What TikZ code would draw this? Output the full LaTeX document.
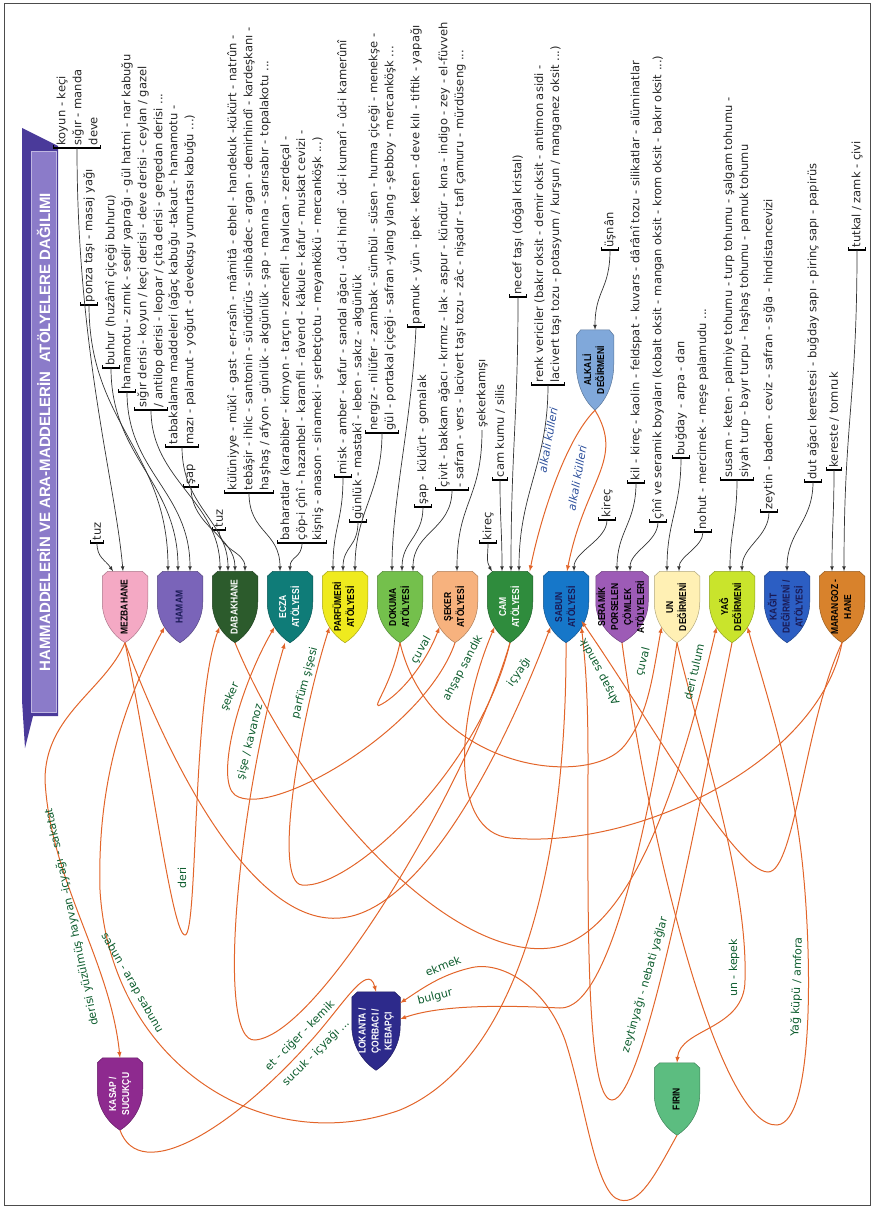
\documentclass[tikz,border=0pt]{standalone}
\usepackage{fontspec}
\setmainfont{DejaVu Sans}
\newfontfamily\darfont[FakeStretch=0.85]{Liberation Sans}
\newfontfamily\baslikfont{Liberation Sans}
\usepackage{graphicx}
\usetikzlibrary{calc}

\definecolor{turuncu}{HTML}{E2652A}
\definecolor{yaziyesil}{HTML}{0B5B2C}
\definecolor{alkalimavi}{HTML}{2B4E9B}
\definecolor{bantkoyu}{HTML}{4A3A9A}
\definecolor{bantacik}{HTML}{8B7BC9}
\definecolor{pembe}{HTML}{F4A9C4}
\definecolor{hamammor}{HTML}{7A64B9}
\definecolor{dabak}{HTML}{2C5B2C}
\definecolor{ecza}{HTML}{0F7C78}
\definecolor{sari}{HTML}{EFEA1E}
\definecolor{dokuma}{HTML}{74C04C}
\definecolor{seftali}{HTML}{F7B27E}
\definecolor{camyesil}{HTML}{2F8C3D}
\definecolor{sabunmavi}{HTML}{1677C9}
\definecolor{seramikmor}{HTML}{9D5BB6}
\definecolor{krem}{HTML}{FFF0B4}
\definecolor{limon}{HTML}{C9E42C}
\definecolor{kagitmavi}{HTML}{2C5EC3}
\definecolor{marangoz}{HTML}{D8822C}
\definecolor{alkali}{HTML}{80A8DA}
\definecolor{kasap}{HTML}{8E2A8F}
\definecolor{lokanta}{HTML}{2D2A8B}
\definecolor{firin}{HTML}{5CBD80}
\definecolor{lacivert}{HTML}{1A1A55}

% kalkan biçimli atölye düğümü
\makeatletter
\def\kalkannokta#1#2{%
  \southwest\pgf@xa=\pgf@x\pgf@ya=\pgf@y%
  \northeast\pgf@xb=\pgf@x\pgf@yb=\pgf@y%
  \advance\pgf@xb by-\pgf@xa%
  \advance\pgf@yb by-\pgf@ya%
  \pgf@x=#1\pgf@xb\advance\pgf@x by\pgf@xa%
  \pgf@y=#2\pgf@yb\advance\pgf@y by\pgf@ya}
\pgfdeclareshape{kalkan}{%
  \inheritsavedanchors[from=rectangle]%
  \inheritanchorborder[from=rectangle]%
  \inheritanchor[from=rectangle]{center}%
  \inheritanchor[from=rectangle]{north}%
  \inheritanchor[from=rectangle]{south}%
  \inheritanchor[from=rectangle]{east}%
  \inheritanchor[from=rectangle]{west}%
  \inheritanchor[from=rectangle]{north east}%
  \inheritanchor[from=rectangle]{north west}%
  \anchor{lower east}{\kalkannokta{.84}{.22}}%
  \anchor{lower west}{\kalkannokta{.16}{.22}}%
  \backgroundpath{%
    \pgfpathmoveto{\kalkannokta{0}{.57}}%
    \pgfpathlineto{\kalkannokta{0}{.93}}%
    \pgfpathlineto{\kalkannokta{.12}{1}}%
    \pgfpathlineto{\kalkannokta{.88}{1}}%
    \pgfpathlineto{\kalkannokta{1}{.93}}%
    \pgfpathlineto{\kalkannokta{1}{.57}}%
    \pgfpathcurveto{\kalkannokta{1}{.3}}{\kalkannokta{.75}{.1}}{\kalkannokta{.5}{0}}%
    \pgfpathcurveto{\kalkannokta{.25}{.1}}{\kalkannokta{0}{.3}}{\kalkannokta{0}{.57}}%
    \pgfpathclose}%
}
\makeatother

\newcommand{\dik}[1]{\rotatebox{90}{\begin{tabular}{@{}c@{}}#1\end{tabular}}}

\tikzset{
  atolye/.style={shape=kalkan, fill=#1, draw=#1!70!black, line width=0.5pt,
    minimum width=45pt, minimum height=71pt, inner sep=0pt,
    font=\darfont\bfseries\fontsize{10}{13}\selectfont},
  madde/.style={rotate=90, anchor=west, align=left, inner sep=2.5pt,
    text=black!85, font=\fontsize{11.5}{16}\selectfont},
  kose/.style={line width=1.1pt},
  bag/.style={-latex, draw=black!80, line width=0.7pt},
  akis/.style={-latex, draw=turuncu, line width=1pt},
  etiket/.style={text=yaziyesil, inner sep=1pt, font=\fontsize{11}{14}\selectfont},
  alkaliyazi/.style={etiket, text=alkalimavi, font=\fontsize{11}{14}\selectfont\itshape}
}

\begin{document}
\begin{tikzpicture}[x=1pt,y=-1pt]
\useasboundingbox (0,0) rectangle (875,1209);
\draw[black!70, line width=0.8pt] (4,3) rectangle (870,1205);

% başlık bandı
\fill[bantkoyu] (22,128) -- (58,146) -- (58,716) -- (33,716) -- (25,748) -- (22,700) -- cycle;
\filldraw[fill=bantacik, draw=bantacik!55!white, line width=1pt] (31,152) rectangle (56,712);
\node[rotate=90, text=white, font=\baslikfont\bfseries\fontsize{15}{18}\selectfont] (baslik) at (43.5,432)
  {HAMMADDELERİN VE ARA-MADDELERİN\ \ ATÖLYELERE DAĞILIMI};

% atölyeler
\node[atolye=pembe, text=black] (mezbahane) at (125,607) {\dik{MEZBAHANE}};
\node[atolye=hamammor, text=lacivert] (hamam) at (180,607) {\dik{HAMAM}};
\node[atolye=dabak, text=white] (dabakhane) at (235,607) {\dik{DABAKHANE}};
\node[atolye=ecza, text=white] (ecza) at (290,607) {\dik{ECZA\\ATÖLYESİ}};
\node[atolye=sari, text=black] (parfumeri) at (345,607) {\dik{PARFÜMERİ\\ATÖLYESİ}};
\node[atolye=dokuma, text=black] (dokuma) at (400,607) {\dik{DOKUMA\\ATÖLYESİ}};
\node[atolye=seftali, text=black] (seker) at (455,607) {\dik{ŞEKER\\ATÖLYESİ}};
\node[atolye=camyesil, text=white] (cam) at (510,607) {\dik{CAM\\ATÖLYESİ}};
\node[atolye=sabunmavi, text=lacivert] (sabun) at (566,607) {\dik{SABUN\\ATÖLYESİ}};
\node[atolye=seramikmor, text=black] (seramik) at (622,607) {\dik{SERAMİK\\PORSELEN\\ÇÖMLEK\\ATÖLYELERİ}};
\node[atolye=krem, text=black] (un) at (677,607) {\dik{UN\\DEĞİRMENİ}};
\node[atolye=limon, text=black] (yag) at (732,607) {\dik{YAĞ\\DEĞİRMENİ}};
\node[atolye=kagitmavi, text=lacivert] (kagit) at (787,607) {\dik{KAĞIT\\DEĞİRMENİ /\\ATÖLYESİ}};
\node[atolye=marangoz, text=black] (marangoz) at (842,607) {\dik{MARANGOZ -\\HANE}};
\node[atolye=alkali, text=black, minimum width=37pt, minimum height=80pt] (alkali) at (595,370) {\dik{ALKALİ\\DEĞİRMENİ}};
\node[atolye=kasap, text=white, minimum height=72pt] (kasap) at (120,1094) {\dik{KASAP /\\SUCUKÇU}};
\node[atolye=lokanta, text=white, minimum width=48pt, minimum height=78pt] (lokanta) at (376,1031) {\dik{LOKANTA /\\ÇORBACI /\\KEBAPÇI}};
\node[atolye=firin, text=black, minimum height=72pt] (firin) at (677,1099) {\dik{FIRIN}};

% hammaddeler
\node[madde] (koyun) at (77,148) {koyun - keçi\\sığır - manda\\deve};
\node[madde] (tuza) at (97,543) {tuz};
\node[madde] (ponza) at (89,305) {ponza taşı - masaj yağı};
\node[madde] (buhur) at (111,368) {buhur (huzâmî çiçeği buhuru)};
\node[madde] (hamamotu) at (127,392) {hamamotu - zırnık - sedir yaprağı - gül hatmi - nar kabuğu};
\node[madde] (deriler) at (151,410) {sığır derisi - koyun / keçi derisi - deve derisi - ceylan / gazel\\/ antilop derisi - leopar / çita derisi - gergedan derisi ...};
\node[madde] (tabak) at (182,447) {tabakalama maddeleri (ağaç kabuğu -takaut - hamamotu -\\mazı - palamut - yoğurt - devekuşu yumurtası kabuğu ...)};
\node[madde] (sapa) at (191,487) {şap};
\node[madde] (tuzb) at (219,530) {tuz};
\node[madde] (ilac) at (249,493) {külüniyye - mükî - gast - er-rasîn - mâmitâ - ebhel - handekuk -kükürt - natrûn -\\tebâşir - ihlic - santonin - sündürüs - sinbâdec - argan - demirhindî - kardeşkanı -\\haşhaş / afyon - günlük - akgünlük - şap - manna - sarısabır - topalakotu ...};
\node[madde] (baharat) at (302,543) {baharatlar (karabiber - kimyon - tarçın - zencefil - havlıcan - zerdeçal -\\çöp-i çînî - hazanbel - karanfil - râvend - kâkule - kafur - muskat cevizi -\\kişniş - anason - sinameki - şerbetçiotu - meyankökü - mercanköşk ...)};
\node[madde] (misk) at (343,477) {misk - amber - kafur - sandal ağacı - ûd-i hindî - ûd-i kumarî - ûd-i kamerûnî};
\node[madde] (gunluk) at (358,522) {günlük - mastakî - leben - sakız - akgünlük};
\node[madde] (cicek) at (382,433) {nergiz - nilüfer - zambak - sümbül - süsen - hurma çiçeği - menekşe -\\gül - portakal çiçeği - safran -ylang ylang - şebboy - mercanköşk ...};
\node[madde] (lif) at (416,327) {pamuk - yün - ipek - keten - deve kılı - tiftik - yapağı};
\node[madde] (sapb) at (423,507) {şap - kükürt - gomalak};
\node[madde] (boya) at (452,490) {çivit - bakkam ağacı - kırmız - lak - aspur - kündür - kına - indigo - zey - el-füvveh\\- safran - vers - lacivert taşı tozu - zâc - nişadır - tafl çamuru - mürdüseng ...};
\node[madde] (kamis) at (482,430) {şekerkamışı};
\node[madde] (kireca) at (488,543) {kireç};
\node[madde] (kum) at (500,480) {cam kumu / silis};
\node[madde] (necef) at (518,297) {necef taşı (doğal kristal)};
\node[madde] (renk) at (548,385) {renk vericiler (bakır oksit - demir oksit - antimon asidi -\\lacivert taşı tozu - potasyum / kurşun / manganez oksit ...)};
\node[madde] (usnan) at (610,250) {üşnân};
\node[madde] (kirecb) at (607,520) {kireç};
\node[madde] (kil) at (636,483) {kil - kireç - kaolin - feldspat - kuvars - dârânî tozu - silikatlar - alüminatlar};
\node[madde] (cini) at (658,522) {çînî ve seramik boyaları (kobalt oksit - mangan oksit - krom oksit - bakır oksit ...)};
\node[madde] (tahil) at (681,458) {buğday - arpa - darı};
\node[madde] (baklagil) at (703,532) {nohut - mercimek - meşe palamudu ...};
\node[madde] (tohum) at (737,480) {susam - keten - palmiye tohumu - turp tohumu - şalgam tohumu -\\siyah turp - bayır turpu - haşhaş tohumu - pamuk tohumu};
\node[madde] (zeytin) at (769,512) {zeytin - badem - ceviz - safran - sığla - hindistancevizi};
\node[madde] (dut) at (813,482) {dut ağacı kerestesi - buğday sapı - pirinç sapı - papirüs};
\node[madde] (kereste) at (834,470) {kereste / tomruk};
\node[madde] (tutkal) at (857,250) {tutkal / zamk - çivi};

\foreach \m in {koyun,tuza,ponza,buhur,hamamotu,deriler,tabak,sapa,tuzb,ilac,baharat,misk,gunluk,cicek,lif,sapb,boya,kireca,kum,necef,renk,usnan,kirecb,kil,cini,tahil,baklagil,tohum,zeytin,dut,kereste,tutkal}
  \draw[kose] ([yshift=3pt]\m.north west) -- (\m.north west) -- (\m.south west) -- ([yshift=3pt]\m.south west);

% hammadde -> atölye
\draw[bag] (koyun.west) .. controls (77,350) and (115,480) .. ([xshift=-2pt]mezbahane.north);
\draw[bag] (tuza.west) .. controls +(0,15) and +(-8,-12) .. ([xshift=-12pt]mezbahane.north);
\draw[bag] (ponza.west) .. controls +(0,120) and +(0,-120) .. ([xshift=-12pt]hamam.north);
\draw[bag] (buhur.west) .. controls +(0,90) and +(0,-90) .. ([xshift=-2pt]hamam.north);
\draw[bag] (hamamotu.west) .. controls +(0,80) and +(0,-80) .. ([xshift=10pt]hamam.north);
\draw[bag] (deriler.west) .. controls +(0,70) and +(0,-70) .. ([xshift=-15pt]dabakhane.north);
\draw[bag] (tabak.west) .. controls +(0,60) and +(0,-50) .. ([xshift=-7pt]dabakhane.north);
\draw[bag] (sapa.west) .. controls +(0,40) and +(0,-35) .. (dabakhane.north);
\draw[bag] (tuzb.west) .. controls +(0,20) and +(0,-20) .. ([xshift=10pt]dabakhane.north);
\draw[bag] (ilac.west) .. controls +(0,40) and +(0,-40) .. ([xshift=-10pt]ecza.north);
\draw[bag] (baharat.west) .. controls +(0,15) and +(0,-15) .. (ecza.north);
\draw[bag] (misk.west) .. controls +(0,45) and +(0,-45) .. ([xshift=-12pt]parfumeri.north);
\draw[bag] (gunluk.west) .. controls +(0,25) and +(0,-25) .. ([xshift=-2pt]parfumeri.north);
\draw[bag] (cicek.west) .. controls +(0,60) and +(0,-60) .. ([xshift=10pt]parfumeri.north);
\draw[bag] (lif.west) .. controls (412,420) and (392,500) .. ([xshift=-8pt]dokuma.north);
\draw[bag] (sapb.west) .. controls +(0,30) and +(0,-30) .. ([xshift=2pt]dokuma.north);
\draw[bag] (boya.west) .. controls +(0,40) and +(0,-40) .. ([xshift=13pt]dokuma.north);
\draw[bag] (kamis.west) .. controls +(0,70) and +(0,-70) .. ([xshift=2pt]seker.north);
\draw[bag] (kireca.west) .. controls +(0,12) and +(-6,-10) .. ([xshift=-18pt]cam.north);
\draw[bag] (kum.west) .. controls +(0,40) and +(0,-40) .. ([xshift=-8pt]cam.north);
\draw[bag] (necef.west) .. controls +(0,120) and +(0,-120) .. ([xshift=1pt]cam.north);
\draw[bag] (renk.west) .. controls +(0,80) and +(0,-80) .. ([xshift=9pt]cam.north);
\draw[bag] (usnan.west) .. controls +(0,40) and +(0,-40) .. (alkali.north);
\draw[bag] (kirecb.west) .. controls +(0,20) and +(0,-20) .. ([xshift=8pt]sabun.north);
\draw[bag] (kil.west) .. controls +(0,40) and +(0,-40) .. ([xshift=-5pt]seramik.north);
\draw[bag] (cini.west) .. controls +(0,20) and +(0,-20) .. ([xshift=8pt]seramik.north);
\draw[bag] (tahil.west) .. controls +(0,50) and +(0,-50) .. ([xshift=-10pt]un.north);
\draw[bag] (baklagil.west) .. controls +(0,15) and +(0,-15) .. ([xshift=2pt]un.north);
\draw[bag] (tohum.west) .. controls +(0,40) and +(0,-40) .. ([xshift=-2pt]yag.north);
\draw[bag] (zeytin.west) .. controls +(0,25) and +(0,-25) .. ([xshift=10pt]yag.north);
\draw[bag] (dut.west) .. controls +(0,40) and +(0,-40) .. (kagit.north);
\draw[bag] (kereste.west) .. controls +(0,45) and +(0,-45) .. ([xshift=-10pt]marangoz.north);
\draw[bag] (tutkal.west) .. controls +(0,150) and +(0,-150) .. ([xshift=2pt]marangoz.north);

% ara-maddeler
\draw[akis] (mezbahane.south) .. controls (105,690) and (45,715) .. (45,780) .. controls (50,880) and (110,960) .. (kasap.north);
\draw[akis] (mezbahane.south) .. controls (150,760) and (172,935) .. (185,935) .. controls (198,935) and (192,700) .. (dabakhane.lower west);
\draw[akis] (mezbahane.south) .. controls (180,790) and (260,925) .. (340,918) .. controls (420,912) and (500,760) .. (sabun.lower west);
\draw[akis] (sabun.south) .. controls (567,860) and (520,1060) .. (400,1110) .. controls (260,1160) and (110,1060) .. (100,890) .. controls (97,780) and (125,700) .. (hamam.lower west);
\draw[akis] (kasap.south) .. controls (140,1185) and (230,1130) .. (307,1045) .. controls (340,1010) and (368,960) .. (lokanta.north);
\draw[akis] (firin.south) .. controls (655,1175) and (640,1205) .. (620,1200) .. controls (595,1195) and (585,1100) .. (565,1040) .. controls (545,985) and (500,960) .. (470,968) .. controls (440,975) and (420,990) .. ([yshift=28pt]lokanta.east);
\draw[akis] (un.south) .. controls (650,820) and (610,1010) .. (560,1008) .. controls (500,1005) and (440,1005) .. ([yshift=12pt]lokanta.east);
\draw[akis] (un.south) .. controls (700,740) and (748,880) .. (745,980) .. controls (745,1030) and (680,1028) .. (firin.north);
\draw[akis] (yag.south) .. controls (700,800) and (645,1100) .. (612,1100) .. controls (585,1100) and (588,900) .. (588,760) .. controls (588,690) and (585,660) .. (sabun.lower east);
\draw[akis] (seramik.south) .. controls (650,850) and (720,1128) .. (777,1125) .. controls (815,1122) and (812,950) .. (802,860) .. controls (792,770) and (765,690) .. (yag.lower east);
\draw[akis] (dabakhane.south) .. controls (300,800) and (450,960) .. (550,948) .. controls (640,937) and (690,740) .. (yag.lower west);
\draw[akis] (dokuma.south) .. controls (390,690) and (368,712) .. (382,704) .. controls (400,694) and (425,665) .. (seker.lower west);
\draw[akis] (dokuma.south) .. controls (430,770) and (590,790) .. (625,745) .. controls (648,715) and (652,680) .. (un.lower west);
\draw[akis] (marangoz.south) .. controls (820,760) and (640,850) .. (510,838) .. controls (450,832) and (455,720) .. (cam.lower west);
\draw[akis] (marangoz.south) .. controls (805,720) and (795,872) .. (768,872) .. controls (735,872) and (650,720) .. ([yshift=6pt]sabun.lower east);
\draw[akis] (seker.south) .. controls (425,730) and (270,820) .. (235,795) .. controls (215,780) and (238,690) .. (ecza.lower west);
\draw[akis] (cam.south) .. controls (470,780) and (320,1035) .. (255,1040) .. controls (215,1043) and (238,800) .. ([xshift=-5pt]ecza.south);
\draw[akis] (cam.south) .. controls (480,770) and (350,890) .. (302,885) .. controls (272,882) and (300,720) .. (parfumeri.lower west);
\draw[akis] (alkali.south) .. controls (565,440) and (540,520) .. ([xshift=-3pt]cam.north east);
\draw[akis] (alkali.south) .. controls (625,460) and (585,480) .. ([xshift=1pt]sabun.north);

% akış etiketleri
\node[etiket, rotate=102] (e1) at (72,917) {derisi yüzülmüş hayvan -içyağı - sakatat};
\node[etiket, rotate=90] (e2) at (182,878) {deri};
\node[etiket, rotate=55] (e3) at (519,672) {içyağı};
\node[etiket, rotate=-60] (e4) at (132,983) {sabun - arap sabunu};
\node[etiket, rotate=45] (e5a) at (300,1036) {et - ciğer - kemik};
\node[etiket, rotate=45] (e5b) at (316,1053) {sucuk - içyağı ...};
\node[etiket, rotate=22] (e6) at (443,966) {ekmek};
\node[etiket, rotate=14] (e7) at (435,997) {bulgur};
\node[etiket, rotate=90] (e8) at (734,968) {un - kepek};
\node[etiket, rotate=74] (e9) at (645,985) {zeytinyağı - nebati yağlar};
\node[etiket, rotate=88] (e10) at (797,987) {Yağ küpü / amfora};
\node[etiket, rotate=77] (e11) at (694,672) {deri tulum};
\node[etiket, rotate=60] (e12) at (421,650) {çuval};
\node[etiket, rotate=75] (e13) at (643,662) {çuval};
\node[etiket, rotate=62] (e14) at (463,668) {ahşap sandık};
\node[etiket, rotate=118] (e15) at (600,672) {Ahşap sandık};
\node[etiket, rotate=65] (e16) at (230,697) {şeker};
\node[etiket, rotate=76] (e17) at (250,742) {şişe / kavanoz};
\node[etiket, rotate=75] (e18) at (305,683) {parfüm şişesi};
\node[alkaliyazi, rotate=80] (e19) at (548,440) {alkali külleri};
\node[alkaliyazi, rotate=80] (e20) at (577,478) {alkali külleri};
\end{tikzpicture}
\end{document}
